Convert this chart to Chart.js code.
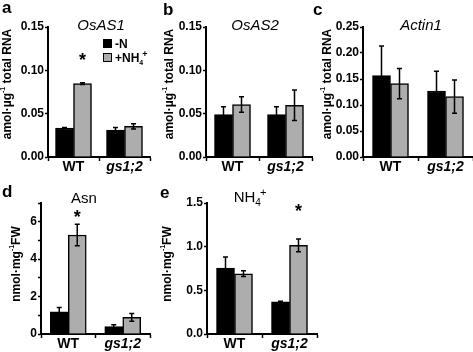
<!DOCTYPE html>
<html>
<head>
<meta charset="utf-8">
<script src="https://cdn.jsdelivr.net/npm/chart.js@4.4.0/dist/chart.umd.min.js"></script>
<style>
html, body { margin: 0; padding: 0; background: #fff; }
#wrap { position: relative; width: 473px; height: 352px; }
#wrap canvas { position: absolute; left: 0; top: 0; }
</style>
</head>
<body>
<div id="wrap">
  <canvas id="pa" width="473" height="352"></canvas>
  <canvas id="pb" width="473" height="352"></canvas>
  <canvas id="pc" width="473" height="352"></canvas>
  <canvas id="pd" width="473" height="352"></canvas>
  <canvas id="pe" width="473" height="352"></canvas>
</div>
<script>
// categories / series
var categories = ['WT', 'gs1;2'];
var seriesLabels = ['-N', '+NH4+'];

// a: OsAS1 (amol per ug total RNA)
var as1MinusN = [0.0335, 0.031];
var as1MinusNErr = [0.0005, 0.003];
var as1PlusNH4 = [0.0847, 0.0354];
var as1PlusNH4Err = [0.001, 0.003];

// b: OsAS2
var as2MinusN = [0.0489, 0.0489];
var as2MinusNErr = [0.009, 0.009];
var as2PlusNH4 = [0.0605, 0.0597];
var as2PlusNH4Err = [0.009, 0.0175];

// c: Actin1
var actMinusN = [0.1565, 0.127];
var actMinusNErr = [0.057, 0.038];
var actPlusNH4 = [0.141, 0.116];
var actPlusNH4Err = [0.029, 0.032];

// d: Asn (nmol per mg FW)
var asnMinusN = [1.18, 0.39];
var asnMinusNErr = [0.23, 0.1];
var asnPlusNH4 = [5.29, 0.89];
var asnPlusNH4Err = [0.58, 0.21];

// e: NH4+ (nmol per mg FW)
var nh4MinusN = [0.755, 0.368];
var nh4MinusNErr = [0.127, 0.006];
var nh4PlusNH4 = [0.69, 1.015];
var nh4PlusNH4Err = [0.033, 0.072];

// y tick values
var ticksRNA = [0, 0.05, 0.10, 0.15];
var ticksActin = [0, 0.05, 0.10, 0.15, 0.20, 0.25];
var ticksAsn = [0, 1, 2, 3, 4, 5, 6, 7];
var ticksNH4 = [0, 0.5, 1.0, 1.5];

var FONT = '"Liberation Sans", Arial, sans-serif';
var GRAY = '#adadad';
var YW = 40, XH = 18;

function drawRich(ctx, parts, x, y, align) {
    var w = 0;
    parts.forEach(function(p) { ctx.font = p.font; w += ctx.measureText(p.t).width + (p.dx || 0); });
    var cx = align === 'center' ? x - w / 2 : x;
    parts.forEach(function(p) {
        ctx.font = p.font;
        ctx.fillText(p.t, cx, y + (p.dy || 0));
        cx += ctx.measureText(p.t).width + (p.dx || 0);
    });
}

var ylabRNA = [
    {t: 'amol\u00b7\u00b5g', font: 'bold 12px ' + FONT},
    {t: '-1', font: 'bold 7px ' + FONT, dy: -5},
    {t: ' total RNA', font: 'bold 12px ' + FONT}
];
var ylabFW = [
    {t: 'nmol\u00b7mg', font: 'bold 12px ' + FONT},
    {t: '-1', font: 'bold 7px ' + FONT, dy: -5},
    {t: 'FW', font: 'bold 12px ' + FONT}
];

// error bars from ds.err
var errorBars = {
    id: 'errorBars',
    afterDatasetsDraw: function(chart) {
        var ctx = chart.ctx, ys = chart.scales.y;
        chart.data.datasets.forEach(function(ds, i) {
            chart.getDatasetMeta(i).data.forEach(function(bar, j) {
                var v = ds.data[j], e = ds.err[j];
                var top = ys.getPixelForValue(v + e), bot = ys.getPixelForValue(v - e);
                ctx.save();
                ctx.strokeStyle = '#000';
                ctx.lineWidth = 1.5;
                ctx.beginPath();
                ctx.moveTo(bar.x, top); ctx.lineTo(bar.x, bot);
                ctx.moveTo(bar.x - 2.5, top); ctx.lineTo(bar.x + 2.5, top);
                ctx.moveTo(bar.x - 2.5, bot); ctx.lineTo(bar.x + 2.5, bot);
                ctx.stroke();
                ctx.restore();
            });
        });
    }
};

function textPlugin(p) {
    return {
        id: 'panelText',
        afterDraw: function(chart) {
            var ctx = chart.ctx;
            ctx.save();
            ctx.fillStyle = '#000';
            ctx.textBaseline = 'alphabetic';
            // panel letter
            ctx.textAlign = 'left';
            ctx.font = 'bold 17px ' + FONT;
            ctx.fillText(p.letter, p.letterPos[0], p.letterPos[1]);
            // title
            drawRich(ctx, p.title, p.titlePos[0], p.titlePos[1], 'center');
            // y axis title
            ctx.save();
            ctx.translate(p.ylabPos[0], p.ylabPos[1]);
            ctx.rotate(-Math.PI / 2);
            ctx.textBaseline = 'middle';
            drawRich(ctx, p.ylab, 0, 0, 'center');
            ctx.restore();
            // asterisks
            (p.stars || []).forEach(function(s) {
                var bar = chart.getDatasetMeta(s[0]).data[s[1]];
                var y = chart.scales.y.getPixelForValue(s[2]);
                ctx.textAlign = 'center';
                ctx.font = 'bold 18px ' + FONT;
                ctx.fillText('*', bar.x, y + 10);
            });
            // legend
            if (p.legend) {
                var lx = p.legend[0], ly = p.legend[1];
                [['#000', [{t: seriesLabels[0], font: 'bold 12px ' + FONT}]],
                 [GRAY, [{t: '+NH', font: 'bold 12px ' + FONT},
                         {t: '4', font: 'bold 7px ' + FONT, dy: 3, dx: -1},
                         {t: '+', font: 'bold 9px ' + FONT, dy: -5}]]
                ].forEach(function(item, k) {
                    var by = ly + k * 14;
                    ctx.fillStyle = item[0];
                    ctx.fillRect(lx, by, 9, 9);
                    ctx.strokeStyle = '#000';
                    ctx.lineWidth = 1;
                    ctx.strokeRect(lx + 0.5, by + 0.5, 8, 8);
                    ctx.fillStyle = '#000';
                    ctx.textAlign = 'left';
                    drawRich(ctx, item[1], lx + 12, by + 9, 'left');
                });
            }
            ctx.restore();
        }
    };
}

function makePanel(id, p) {
    var area = p.area;
    return new Chart(document.getElementById(id), {
        type: 'bar',
        data: {
            labels: categories,
            datasets: [{
                label: seriesLabels[0],
                data: p.minus,
                err: p.minusErr,
                backgroundColor: '#000',
                borderColor: '#000',
                borderWidth: 1.5,
                barThickness: 18
            }, {
                label: seriesLabels[1],
                data: p.plus,
                err: p.plusErr,
                backgroundColor: GRAY,
                borderColor: '#000',
                borderWidth: 1.5,
                barThickness: 18
            }]
        },
        options: {
            responsive: false,
            animation: false,
            events: [],
            layout: {
                padding: {
                    left: area[0] - YW,
                    top: area[1],
                    right: 473 - area[2],
                    bottom: 352 - area[3] - XH
                }
            },
            plugins: {
                legend: {display: false},
                tooltip: {enabled: false}
            },
            scales: {
                x: {
                    border: {color: '#000', width: 2},
                    grid: {drawOnChartArea: false, color: '#000', tickColor: '#000', tickLength: 4, tickWidth: 1.5},
                    ticks: {
                        color: '#000',
                        padding: -1,
                        font: function(c) {
                            return {family: FONT, size: 14, weight: 'bold', lineHeight: 1,
                                    style: c.index === 1 ? 'italic' : 'normal'};
                        }
                    },
                    afterFit: function(s) { s.height = XH; }
                },
                y: {
                    min: 0,
                    max: p.ticks[p.ticks.length - 1],
                    border: {color: '#000', width: 2},
                    grid: {drawOnChartArea: false, color: '#000', tickColor: '#000', tickLength: 3, tickWidth: 1.5},
                    ticks: {
                        color: '#000',
                        padding: 1,
                        font: {family: FONT, size: 12, weight: 'bold'},
                        callback: p.fmt
                    },
                    afterBuildTicks: function(s) {
                        s.ticks = p.ticks.map(function(v) { return {value: v}; });
                    },
                    afterFit: function(s) { s.width = YW; }
                }
            }
        },
        plugins: [errorBars, textPlugin(p)]
    });
}

function fmt2(v) { return v.toFixed(2); }
function fmt1(v) { return v.toFixed(1); }
function fmtEven(v) { return v % 2 === 0 ? String(v) : ''; }

makePanel('pa', {
    area: [48, 27, 150, 157],
    minus: as1MinusN, minusErr: as1MinusNErr, plus: as1PlusNH4, plusErr: as1PlusNH4Err,
    ticks: ticksRNA, fmt: fmt2,
    letter: 'a', letterPos: [2, 13],
    title: [{t: 'OsAS1', font: 'italic 15px ' + FONT}], titlePos: [101, 30],
    ylab: ylabRNA, ylabPos: [8, 84],
    stars: [[1, 0, 0.117]],
    legend: [103, 39]
});

makePanel('pb', {
    area: [206, 27, 312, 157],
    minus: as2MinusN, minusErr: as2MinusNErr, plus: as2PlusNH4, plusErr: as2PlusNH4Err,
    ticks: ticksRNA, fmt: fmt2,
    letter: 'b', letterPos: [163, 15],
    title: [{t: 'OsAS2', font: 'italic 15px ' + FONT}], titlePos: [255, 30],
    ylab: ylabRNA, ylabPos: [170, 84]
});

makePanel('pc', {
    area: [363, 27, 473, 157],
    minus: actMinusN, minusErr: actMinusNErr, plus: actPlusNH4, plusErr: actPlusNH4Err,
    ticks: ticksActin, fmt: fmt2,
    letter: 'c', letterPos: [313, 15],
    title: [{t: 'Actin1', font: 'italic 15px ' + FONT}], titlePos: [421, 30],
    ylab: ylabRNA, ylabPos: [328, 84]
});

makePanel('pd', {
    area: [41, 203, 150, 334],
    minus: asnMinusN, minusErr: asnMinusNErr, plus: asnPlusNH4, plusErr: asnPlusNH4Err,
    ticks: ticksAsn, fmt: fmtEven,
    letter: 'd', letterPos: [2, 197],
    title: [{t: 'Asn', font: '15px ' + FONT}], titlePos: [84, 203],
    ylab: ylabFW, ylabPos: [17, 264],
    stars: [[1, 0, 6.47]]
});

makePanel('pe', {
    area: [207, 203, 317, 334],
    minus: nh4MinusN, minusErr: nh4MinusNErr, plus: nh4PlusNH4, plusErr: nh4PlusNH4Err,
    ticks: ticksNH4, fmt: fmt1,
    letter: 'e', letterPos: [160, 198],
    title: [{t: 'NH', font: '15px ' + FONT},
            {t: '4', font: '10px ' + FONT, dy: 4, dx: -1},
            {t: '+', font: '11px ' + FONT, dy: -6}],
    titlePos: [250, 202],
    ylab: ylabFW, ylabPos: [168, 264],
    stars: [[1, 1, 1.45]]
});
</script>
</body>
</html>
